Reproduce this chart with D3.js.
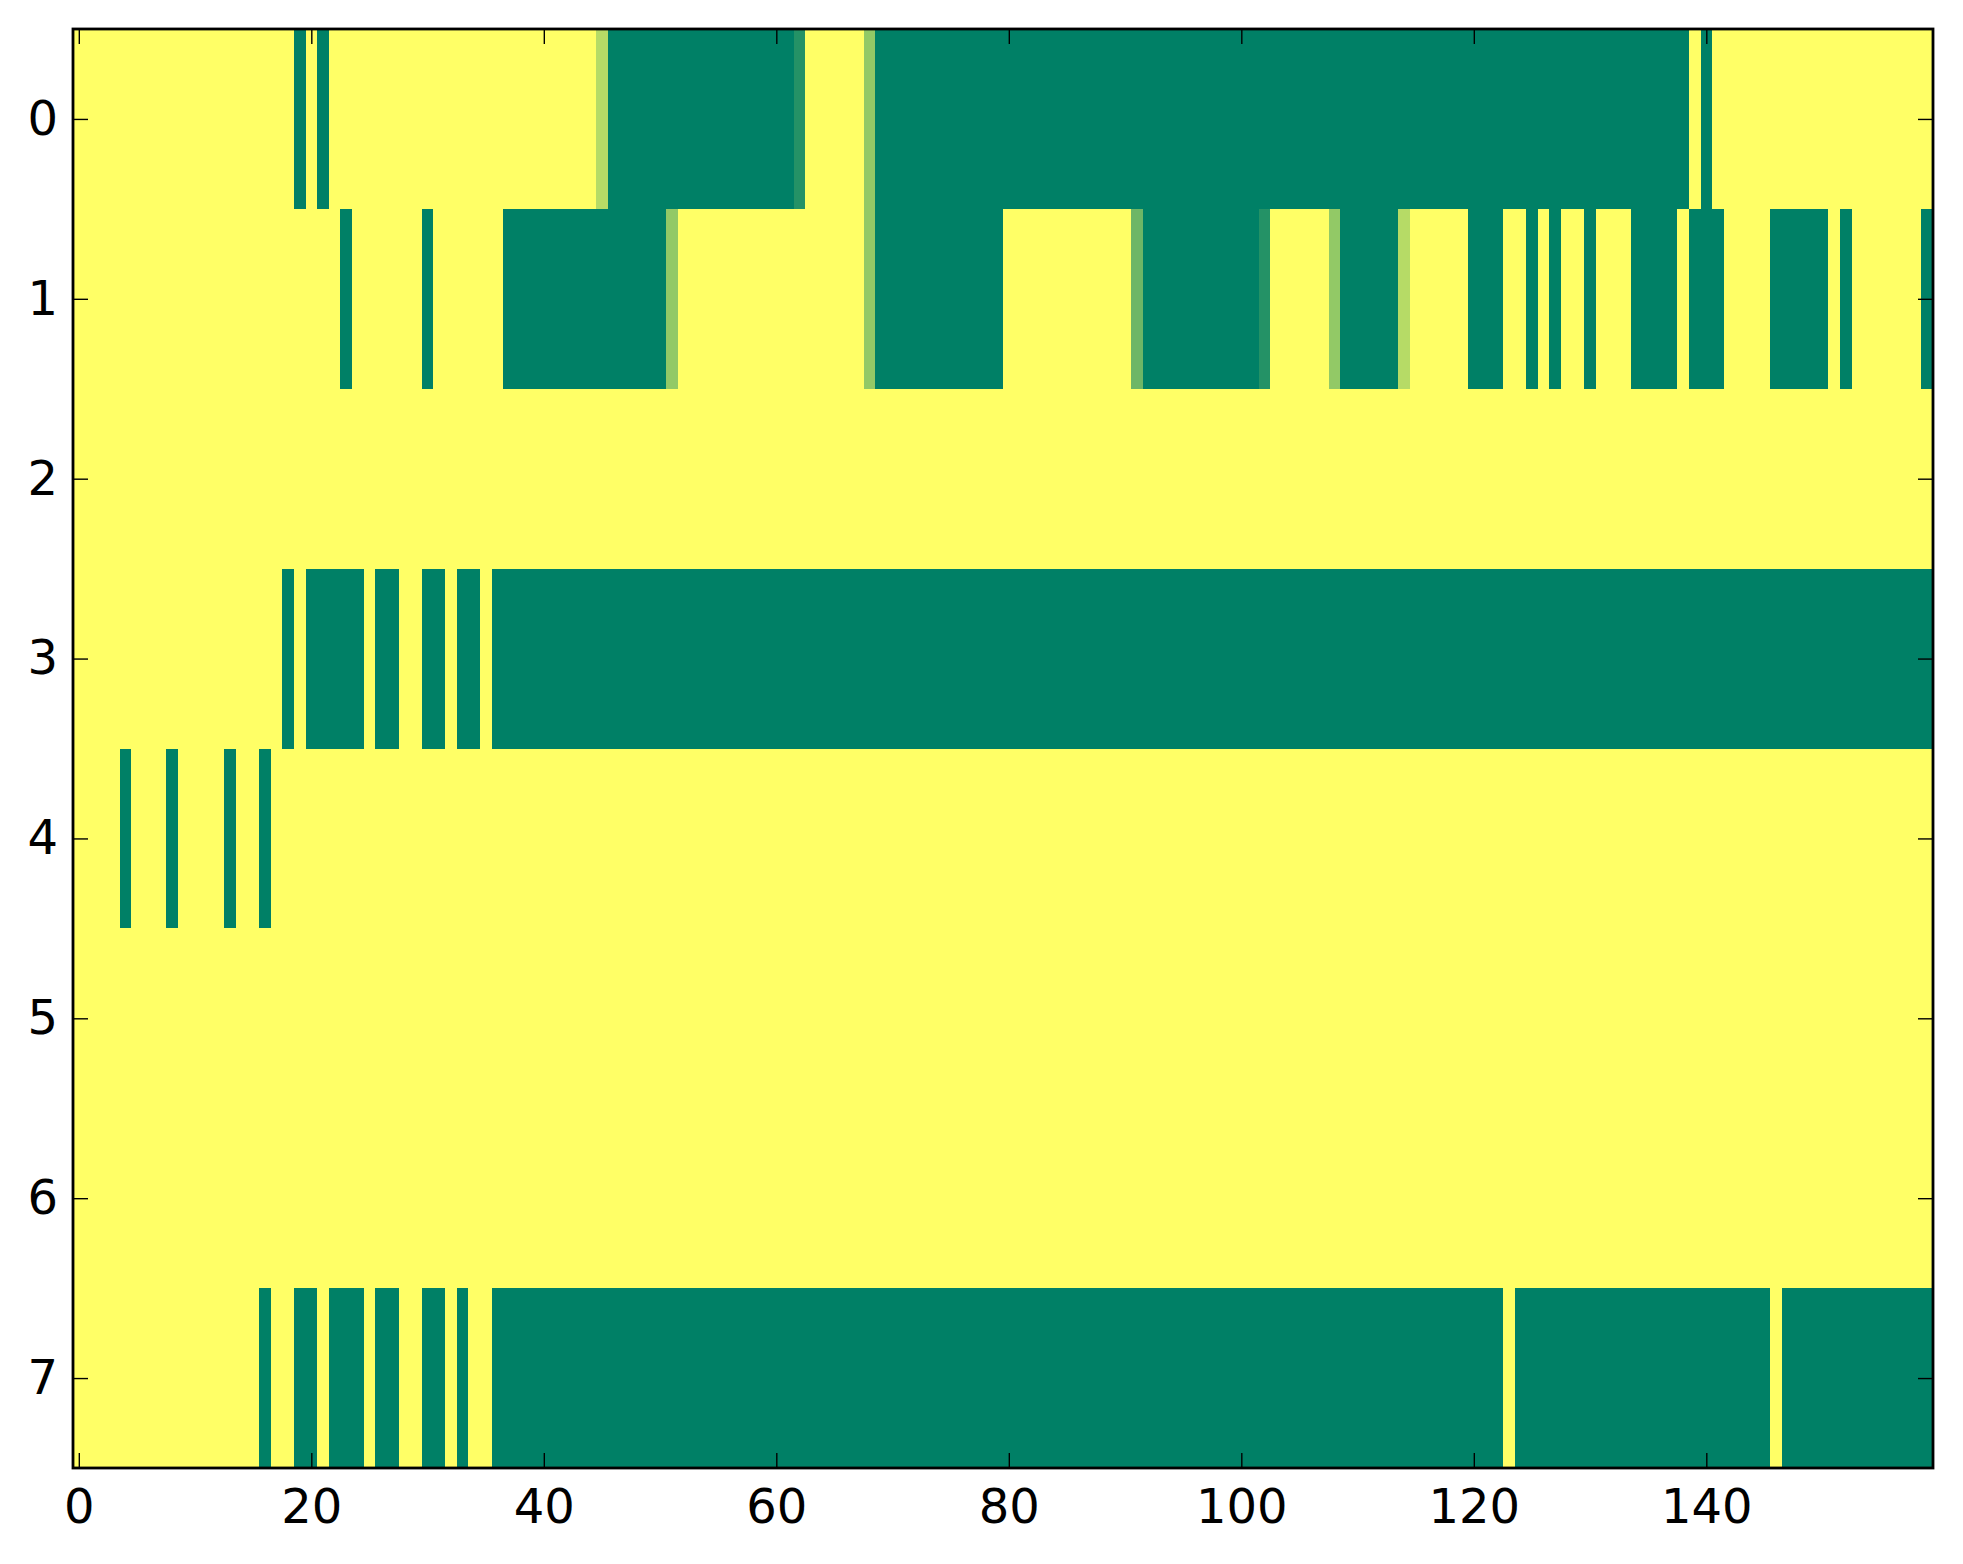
<!DOCTYPE html>
<html>
  <head>
    <meta charset="utf-8" />
    <script src="https://d3js.org/d3.v7.min.js"></script>
    <style>
      body {
        margin: 0;
        background: #ffffff;
      }
      .tick text {
        font-family: "DejaVu Sans", sans-serif;
        font-size: 48px;
        fill: #000000;
      }
      .tick line {
        stroke: #000000;
        stroke-width: 1.4px;
      }
    </style>
  </head>

  <body>
    <div id="chartContainer"></div>
  </body>

  <script type="text/javascript">
    // cell levels, 0 = dark green ... 7 = yellow
    const row0 = [
      7,7,7,7,7,7,7,7,7,7, 7,7,7,7,7,7,7,7,7,0,
      7,0,7,7,7,7,7,7,7,7, 7,7,7,7,7,7,7,7,7,7,
      7,7,7,7,7,5,0,0,0,0, 0,0,0,0,0,0,0,0,0,0,
      0,0,1,7,7,7,7,7,4,0, 0,0,0,0,0,0,0,0,0,0,
      0,0,0,0,0,0,0,0,0,0, 0,0,0,0,0,0,0,0,0,0,
      0,0,0,0,0,0,0,0,0,0, 0,0,0,0,0,0,0,0,0,0,
      0,0,0,0,0,0,0,0,0,0, 0,0,0,0,0,0,0,0,0,7,
      0,7,7,7,7,7,7,7,7,7, 7,7,7,7,7,7,7,7,7,7
    ];
    const row1 = [
      7,7,7,7,7,7,7,7,7,7, 7,7,7,7,7,7,7,7,7,7,
      7,7,7,0,7,7,7,7,7,7, 0,7,7,7,7,7,7,0,0,0,
      0,0,0,0,0,0,0,0,0,0, 0,4,7,7,7,7,7,7,7,7,
      7,7,7,7,7,7,7,7,4,0, 0,0,0,0,0,0,0,0,0,0,
      7,7,7,7,7,7,7,7,7,7, 7,3,0,0,0,0,0,0,0,0,
      0,0,1,7,7,7,7,7,4,0, 0,0,0,0,5,7,7,7,7,7,
      0,0,0,7,7,0,7,0,7,7, 0,7,7,7,0,0,0,0,7,0,
      0,0,7,7,7,7,0,0,0,0, 0,7,0,7,7,7,7,7,7,0
    ];
    const row2 = [
      7,7,7,7,7,7,7,7,7,7, 7,7,7,7,7,7,7,7,7,7,
      7,7,7,7,7,7,7,7,7,7, 7,7,7,7,7,7,7,7,7,7,
      7,7,7,7,7,7,7,7,7,7, 7,7,7,7,7,7,7,7,7,7,
      7,7,7,7,7,7,7,7,7,7, 7,7,7,7,7,7,7,7,7,7,
      7,7,7,7,7,7,7,7,7,7, 7,7,7,7,7,7,7,7,7,7,
      7,7,7,7,7,7,7,7,7,7, 7,7,7,7,7,7,7,7,7,7,
      7,7,7,7,7,7,7,7,7,7, 7,7,7,7,7,7,7,7,7,7,
      7,7,7,7,7,7,7,7,7,7, 7,7,7,7,7,7,7,7,7,7
    ];
    const row3 = [
      7,7,7,7,7,7,7,7,7,7, 7,7,7,7,7,7,7,7,0,7,
      0,0,0,0,0,7,0,0,7,7, 0,0,7,0,0,7,0,0,0,0,
      0,0,0,0,0,0,0,0,0,0, 0,0,0,0,0,0,0,0,0,0,
      0,0,0,0,0,0,0,0,0,0, 0,0,0,0,0,0,0,0,0,0,
      0,0,0,0,0,0,0,0,0,0, 0,0,0,0,0,0,0,0,0,0,
      0,0,0,0,0,0,0,0,0,0, 0,0,0,0,0,0,0,0,0,0,
      0,0,0,0,0,0,0,0,0,0, 0,0,0,0,0,0,0,0,0,0,
      0,0,0,0,0,0,0,0,0,0, 0,0,0,0,0,0,0,0,0,0
    ];
    const row4 = [
      7,7,7,7,0,7,7,7,0,7, 7,7,7,0,7,7,0,7,7,7,
      7,7,7,7,7,7,7,7,7,7, 7,7,7,7,7,7,7,7,7,7,
      7,7,7,7,7,7,7,7,7,7, 7,7,7,7,7,7,7,7,7,7,
      7,7,7,7,7,7,7,7,7,7, 7,7,7,7,7,7,7,7,7,7,
      7,7,7,7,7,7,7,7,7,7, 7,7,7,7,7,7,7,7,7,7,
      7,7,7,7,7,7,7,7,7,7, 7,7,7,7,7,7,7,7,7,7,
      7,7,7,7,7,7,7,7,7,7, 7,7,7,7,7,7,7,7,7,7,
      7,7,7,7,7,7,7,7,7,7, 7,7,7,7,7,7,7,7,7,7
    ];
    const row5 = [
      7,7,7,7,7,7,7,7,7,7, 7,7,7,7,7,7,7,7,7,7,
      7,7,7,7,7,7,7,7,7,7, 7,7,7,7,7,7,7,7,7,7,
      7,7,7,7,7,7,7,7,7,7, 7,7,7,7,7,7,7,7,7,7,
      7,7,7,7,7,7,7,7,7,7, 7,7,7,7,7,7,7,7,7,7,
      7,7,7,7,7,7,7,7,7,7, 7,7,7,7,7,7,7,7,7,7,
      7,7,7,7,7,7,7,7,7,7, 7,7,7,7,7,7,7,7,7,7,
      7,7,7,7,7,7,7,7,7,7, 7,7,7,7,7,7,7,7,7,7,
      7,7,7,7,7,7,7,7,7,7, 7,7,7,7,7,7,7,7,7,7
    ];
    const row6 = [
      7,7,7,7,7,7,7,7,7,7, 7,7,7,7,7,7,7,7,7,7,
      7,7,7,7,7,7,7,7,7,7, 7,7,7,7,7,7,7,7,7,7,
      7,7,7,7,7,7,7,7,7,7, 7,7,7,7,7,7,7,7,7,7,
      7,7,7,7,7,7,7,7,7,7, 7,7,7,7,7,7,7,7,7,7,
      7,7,7,7,7,7,7,7,7,7, 7,7,7,7,7,7,7,7,7,7,
      7,7,7,7,7,7,7,7,7,7, 7,7,7,7,7,7,7,7,7,7,
      7,7,7,7,7,7,7,7,7,7, 7,7,7,7,7,7,7,7,7,7,
      7,7,7,7,7,7,7,7,7,7, 7,7,7,7,7,7,7,7,7,7
    ];
    const row7 = [
      7,7,7,7,7,7,7,7,7,7, 7,7,7,7,7,7,0,7,7,0,
      0,7,0,0,0,7,0,0,7,7, 0,0,7,0,7,7,0,0,0,0,
      0,0,0,0,0,0,0,0,0,0, 0,0,0,0,0,0,0,0,0,0,
      0,0,0,0,0,0,0,0,0,0, 0,0,0,0,0,0,0,0,0,0,
      0,0,0,0,0,0,0,0,0,0, 0,0,0,0,0,0,0,0,0,0,
      0,0,0,0,0,0,0,0,0,0, 0,0,0,0,0,0,0,0,0,0,
      0,0,0,7,0,0,0,0,0,0, 0,0,0,0,0,0,0,0,0,0,
      0,0,0,0,0,0,7,0,0,0, 0,0,0,0,0,0,0,0,0,0
    ];

    const xTicks = [0, 20, 40, 60, 80, 100, 120, 140];
    const yTicks = [0, 1, 2, 3, 4, 5, 6, 7];

    drawHeatmap([row0, row1, row2, row3, row4, row5, row6, row7]);

    function drawHeatmap(rows) {
      const width = 1963,
        height = 1564;
      const margin = { top: 29, right: 30, bottom: 96, left: 73 };
      const nCols = rows[0].length;

      const svg = d3
        .select("#chartContainer")
        .append("svg")
        .attr("width", width)
        .attr("height", height);

      const x = d3
        .scaleLinear()
        .domain([-0.5, nCols - 0.5])
        .range([margin.left, width - margin.right]);
      const y = d3
        .scaleLinear()
        .domain([-0.5, rows.length - 0.5])
        .range([margin.top, height - margin.bottom]);

      // matplotlib "summer": straight rgb blend green -> yellow
      const color = d3
        .scaleLinear()
        .domain([0, 7])
        .range(["#008066", "#ffff66"])
        .interpolate(d3.interpolateRgb);

      const cells = [];
      rows.forEach(function (r, i) {
        r.forEach(function (v, j) {
          cells.push({ row: i, col: j, value: v });
        });
      });

      svg
        .append("g")
        .attr("shape-rendering", "crispEdges")
        .selectAll("rect")
        .data(cells)
        .enter()
        .append("rect")
        .attr("x", (d) => x(d.col - 0.5))
        .attr("y", (d) => y(d.row - 0.5))
        .attr("width", (d) => x(d.col + 0.5) - x(d.col - 0.5))
        .attr("height", (d) => y(d.row + 0.5) - y(d.row - 0.5))
        .attr("fill", (d) => color(d.value));

      const tickLen = 15;
      const plotBottom = height - margin.bottom;
      const plotRight = width - margin.right;

      const xAxis = svg
        .append("g")
        .attr("transform", `translate(0, ${plotBottom})`)
        .call(
          d3.axisBottom(x).tickValues(xTicks).tickSize(-tickLen).tickPadding(21)
        );
      svg
        .append("g")
        .attr("transform", `translate(0, ${margin.top})`)
        .call(
          d3.axisTop(x).tickValues(xTicks).tickSize(-tickLen).tickFormat("")
        );
      svg
        .append("g")
        .attr("transform", `translate(${margin.left}, 0)`)
        .call(
          d3.axisLeft(y).tickValues(yTicks).tickSize(-tickLen).tickPadding(15)
        );
      svg
        .append("g")
        .attr("transform", `translate(${plotRight}, 0)`)
        .call(
          d3.axisRight(y).tickValues(yTicks).tickSize(-tickLen).tickFormat("")
        );

      svg.selectAll(".domain").remove();
      svg.selectAll(".tick text").attr("font-size", null).attr("font-family", null);

      // frame (spines)
      svg
        .append("rect")
        .attr("x", margin.left)
        .attr("y", margin.top)
        .attr("width", plotRight - margin.left)
        .attr("height", plotBottom - margin.top)
        .attr("fill", "none")
        .attr("stroke", "#000000")
        .attr("stroke-width", 2.8);
    }
  </script>
</html>
